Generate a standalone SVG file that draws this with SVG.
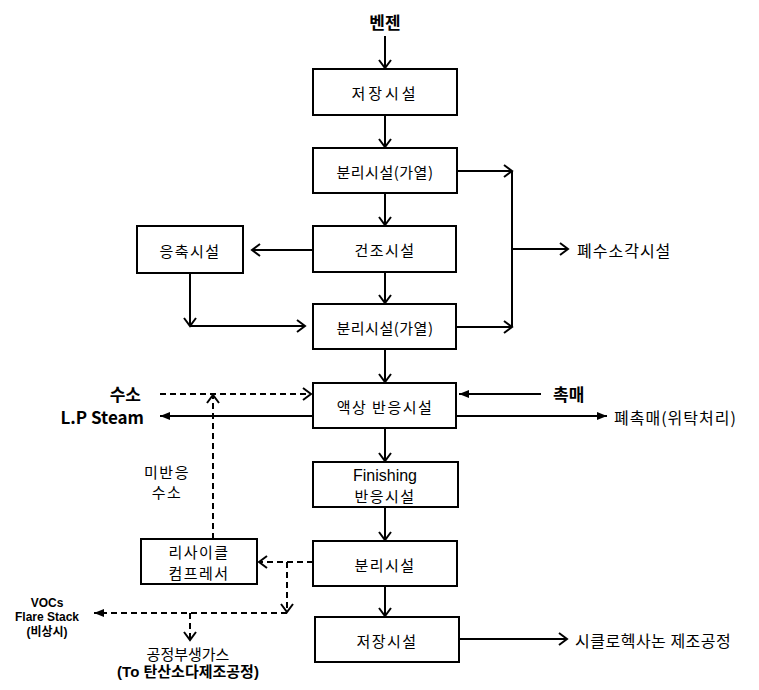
<svg xmlns="http://www.w3.org/2000/svg" width="759" height="690" viewBox="0 0 759 690">
<defs>
<style>
.box{fill:#fff;stroke:#000;stroke-width:2}
.t{font-family:"Noto Sans CJK KR","Liberation Sans",sans-serif;font-size:15px;fill:#000;text-anchor:middle;dominant-baseline:central;letter-spacing:1.5px}
.w{letter-spacing:3px}
.n{letter-spacing:0.5px}
.tl{font-family:"Noto Sans CJK KR","Liberation Sans",sans-serif;font-size:16px;fill:#000;dominant-baseline:central;letter-spacing:1px}
.b{font-family:"Noto Sans CJK KR","Liberation Sans",sans-serif;font-size:17px;font-weight:bold;fill:#000;dominant-baseline:central}
.s{font-family:"Liberation Sans","Noto Sans CJK KR",sans-serif;font-size:12px;font-weight:bold;fill:#000;text-anchor:middle;dominant-baseline:central}
.g{font-family:"Liberation Sans","Noto Sans CJK KR",sans-serif;font-size:15px;fill:#000;text-anchor:middle;dominant-baseline:central}
.ln{fill:none;stroke:#000;stroke-width:2}
.o{marker-end:url(#open)}
.f{marker-end:url(#fill)}
.d{stroke-dasharray:6,4}
</style>
<marker id="open" markerUnits="userSpaceOnUse" markerWidth="14" markerHeight="16" viewBox="0 0 14 16" refX="12" refY="8" orient="auto"><path d="M4,2 L12,8 L4,14" fill="none" stroke="#000" stroke-width="2"/></marker>
<marker id="fill" markerUnits="userSpaceOnUse" markerWidth="10" markerHeight="8" viewBox="0 0 10 8" refX="10" refY="4" orient="auto"><path d="M0,0 L10,4 L0,8 Z" fill="#000"/></marker>
</defs>

<g id="connectors">
<line class="ln o" x1="385" y1="36" x2="385" y2="68"/>
<line class="ln o" x1="385" y1="115" x2="385" y2="147"/>
<line class="ln o" x1="385" y1="193" x2="385" y2="225"/>
<line class="ln o" x1="385" y1="272" x2="385" y2="303"/>
<line class="ln o" x1="385" y1="349" x2="385" y2="382"/>
<line class="ln o" x1="385" y1="428" x2="385" y2="461"/>
<line class="ln o" x1="385" y1="507" x2="385" y2="540"/>
<line class="ln o" x1="385" y1="586" x2="385" y2="616"/>
<line class="ln o" x1="457" y1="171" x2="512" y2="171"/>
<line class="ln o" x1="457" y1="327" x2="512" y2="327"/>
<line class="ln" x1="512" y1="171" x2="512" y2="327"/>
<line class="ln o" x1="512" y1="249" x2="568" y2="249"/>
<line class="ln o" x1="313" y1="250" x2="252" y2="250"/>
<line class="ln o" x1="190" y1="273" x2="190" y2="326"/>
<line class="ln o" x1="190" y1="326" x2="305" y2="326"/>
<line class="ln o d" x1="160" y1="394" x2="311" y2="394"/>
<line class="ln f" x1="313" y1="416" x2="160" y2="416"/>
<line class="ln o d" x1="213" y1="539" x2="213" y2="395"/>
<line class="ln f" x1="541" y1="394" x2="459" y2="394"/>
<line class="ln f" x1="457" y1="416" x2="607" y2="416"/>
<line class="ln o d" x1="313" y1="562" x2="259" y2="562"/>
<line class="ln o d" x1="287" y1="562" x2="287" y2="612"/>
<line class="ln f d" x1="287" y1="613" x2="94" y2="613"/>
<line class="ln o d" x1="190" y1="613" x2="190" y2="640"/>
<line class="ln o" x1="459" y1="639" x2="567" y2="639"/>
</g>

<g id="n-benzene"><text class="b" x="385" y="21" text-anchor="middle">벤젠</text></g>
<g id="n-storage1"><rect class="box" x="313" y="69" width="144" height="46"/><text class="t w" x="385" y="92">저장시설</text></g>
<g id="n-sep1"><rect class="box" x="313" y="148" width="144" height="45"/><text class="t n" x="385" y="171">분리시설(가열)</text></g>
<g id="n-dry"><rect class="box" x="313" y="226" width="143" height="46"/><text class="t" x="385" y="249">건조시설</text></g>
<g id="n-cond"><rect class="box" x="137" y="226" width="106" height="47"/><text class="t" x="190" y="250">응축시설</text></g>
<g id="n-sep2"><rect class="box" x="313" y="304" width="143" height="45"/><text class="t n" x="385" y="327">분리시설(가열)</text></g>
<g id="n-waste"><text class="tl" x="577" y="250">폐수소각시설</text></g>
<g id="n-react"><rect class="box" x="313" y="383" width="143" height="45"/><text class="t" x="385" y="406">액상 반응시설</text></g>
<g id="n-h2"><text class="b" x="141" y="393" text-anchor="end">수소</text></g>
<g id="n-lps"><text class="b" x="144" y="416" text-anchor="end">L.P Steam</text></g>
<g id="n-cat"><text class="b" x="553" y="393">촉매</text></g>
<g id="n-wcat"><text class="tl" x="614" y="417">폐촉매(위탁처리)</text></g>
<g id="n-unreact"><text class="t" x="167" y="471">미반응</text><text class="t" x="167" y="491">수소</text></g>
<g id="n-finish"><rect class="box" x="313" y="462" width="145" height="45"/><text class="g" x="385" y="475" style="font-size:16px">Finishing</text><text class="t" x="385" y="495">반응시설</text></g>
<g id="n-sep3"><rect class="box" x="313" y="541" width="144" height="45"/><text class="t" x="385" y="564">분리시설</text></g>
<g id="n-recyc"><rect class="box" x="141" y="539" width="116" height="45"/><text class="t" x="199" y="551">리사이클</text><text class="t" x="199" y="572">컴프레서</text></g>
<g id="n-vocs"><text class="s" x="47" y="603">VOCs</text><text class="s" x="47" y="617">Flare Stack</text><text class="s" x="47" y="632">(비상시)</text></g>
<g id="n-byprod"><text class="g" x="188" y="654">공정부생가스</text><text class="g" x="188" y="671" style="font-weight:bold">(To 탄산소다제조공정)</text></g>
<g id="n-storage2"><rect class="box" x="315" y="617" width="144" height="45"/><text class="t" x="387" y="640">저장시설</text></g>
<g id="n-cyclo"><text class="tl" x="575" y="640" style="letter-spacing:0.5px">시클로헥사논 제조공정</text></g>
</svg>
